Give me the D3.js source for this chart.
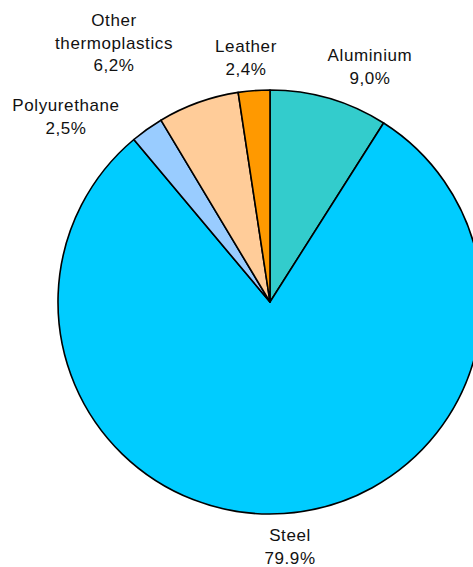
<!DOCTYPE html>
<html>
<head>
<meta charset="utf-8">
<script src="https://cdn.jsdelivr.net/npm/d3@7"></script>
<style>
  html, body { margin: 0; padding: 0; background: #fff; }
  svg { display: block; }
</style>
</head>
<body>
<div id="chart"></div>
<script>
// materials, clockwise from 12 o'clock
const materials = ["Aluminium", "Steel", "Polyurethane", "Other thermoplastics", "Leather"];
const shares = [9.0, 79.9, 2.5, 6.2, 2.4];
const shareLabels = ["9,0%", "79.9%", "2,5%", "6,2%", "2,4%"];
const labelLines = [["Aluminium"], ["Steel"], ["Polyurethane"], ["Other", "thermoplastics"], ["Leather"]];
const colors = ["#33cccc", "#00ccff", "#99ccff", "#ffcc99", "#ff9900"];

const width = 473, height = 567;
const cx = 270, cy = 302, radius = 212;

// label anchor (text centre, first baseline) per slice
const labelPos = {
  "Aluminium": [370, 61],
  "Steel": [290, 541],
  "Polyurethane": [66, 111],
  "Other thermoplastics": [114, 26],
  "Leather": [246, 52]
};

const svg = d3.select("#chart")
  .append("svg")
  .attr("width", width)
  .attr("height", height);

const pie = d3.pie().sort(null).value(d => d.value);
const arc = d3.arc().innerRadius(0).outerRadius(radius);

const data = materials.map((m, i) => ({
  name: m, value: shares[i], color: colors[i], lines: labelLines[i], pct: shareLabels[i]
}));

const g = svg.append("g").attr("transform", `translate(${cx},${cy})`);

g.selectAll("path")
  .data(pie(data))
  .enter()
  .append("path")
  .attr("d", arc)
  .attr("fill", d => d.data.color)
  .attr("stroke", "#000")
  .attr("stroke-width", 1.6)
  .attr("stroke-linejoin", "round");

// ---------- labels ----------
const lineH = 22.5;
const labels = svg.append("g")
  .attr("font-family", "'Liberation Sans', Arial, sans-serif")
  .attr("font-size", "17px")
  .attr("letter-spacing", "0.6px")
  .attr("fill", "#111")
  .attr("text-anchor", "middle");

data.forEach(d => {
  const [x, y] = labelPos[d.name];
  const t = labels.append("text").attr("x", x).attr("y", y);
  d.lines.concat([d.pct]).forEach((line, j) => {
    t.append("tspan")
      .attr("x", x)
      .attr("y", y + j * lineH)
      .text(line);
  });
});
</script>
</body>
</html>
